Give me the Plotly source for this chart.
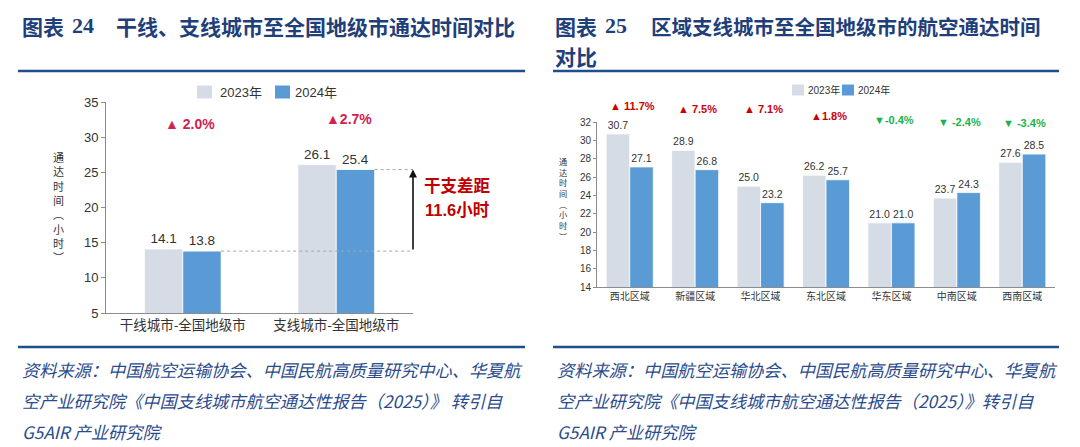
import plotly.graph_objects as go

W, H = 1080, 447

# ---------------- data ----------------
left_categories = ["干线城市-全国地级市", "支线城市-全国地级市"]
left_2023 = [14.1, 26.1]
left_2024 = [13.8, 25.4]
left_changes = ["▲ 2.0%", "▲2.7%"]
gap_text = ["干支差距", "11.6小时"]

right_categories = ["西北区域", "新疆区域", "华北区域", "东北区域", "华东区域", "中南区域", "西南区域"]
right_2023 = [30.7, 28.9, 25.0, 26.2, 21.0, 23.7, 27.6]
right_2024 = [27.1, 26.8, 23.2, 25.7, 21.0, 24.3, 28.5]
right_changes = ["▲ 11.7%", "▲ 7.5%", "▲ 7.1%", "▲1.8%", "▼-0.4%", "▼ -2.4%", "▼ -3.4%"]

series_names = ["2023年", "2024年"]
ytitle_chars = ["通", "达", "时", "间", "︵", "小", "时", "︶"]

left_title = ["图表", "24", "干线、支线城市至全国地级市通达时间对比"]
right_title = ["图表", "25", "区域支线城市至全国地级市的航空通达时间", "对比"]
foot_left = ["资料来源：中国航空运输协会、中国民航高质量研究中心、华夏航",
             "空产业研究院《中国支线城市航空通达性报告（2025）》 转引自",
             "G5AIR 产业研究院"]
foot_right = ["资料来源：中国航空运输协会、中国民航高质量研究中心、华夏航",
              "空产业研究院《中国支线城市航空通达性报告（2025）》转引自",
              "G5AIR 产业研究院"]

# ---------------- styles ----------------
C23 = "#D6DCE5"
C24 = "#5B9BD5"
NAVY = "#1F3F7A"
FOOT = "#2A4B8D"
TXT = "#333333"
SANS = "Liberation Sans, Noto Sans CJK SC, sans-serif"
CJK = "Noto Sans CJK SC, sans-serif"
SERIF = "Liberation Serif, serif"
COLORS = [C23, C24]


def px(x):
    return x / W


def py(y):
    return 1 - y / H


fig = go.Figure()

# left chart
lw = 0.25
for vals, name, col, off in [(left_2023, series_names[0], C23, -lw), (left_2024, series_names[1], C24, 0)]:
    fig.add_trace(go.Bar(x=list(range(len(left_categories))), y=vals, name=name,
                         marker=dict(color=col, line=dict(color="white", width=0.8)),
                         width=lw, offset=off, texttemplate="%{y:.1f}",
                         textposition="outside", cliponaxis=False,
                         textfont=dict(size=13.5, color=TXT, family=SANS),
                         xaxis="x", yaxis="y", showlegend=False))

# right chart
rw = 0.36
for vals, name, col, off in [(right_2023, series_names[0], C23, -rw), (right_2024, series_names[1], C24, 0)]:
    fig.add_trace(go.Bar(x=list(range(len(right_categories))), y=vals, name=name,
                         marker=dict(color=col, line=dict(color="white", width=0.8)),
                         width=rw, offset=off, texttemplate="%{y:.1f}",
                         textposition="outside", cliponaxis=False,
                         textfont=dict(size=10.5, color=TXT, family=SANS),
                         xaxis="x2", yaxis="y2", showlegend=False))

axis_common = dict(showgrid=False, zeroline=False, showline=True, linecolor="#8C8C8C",
                   linewidth=1, fixedrange=True)

fig.update_layout(
    width=W, height=H, margin=dict(l=0, r=0, t=0, b=0, autoexpand=False),
    paper_bgcolor="white", plot_bgcolor="white",
    barmode="group", showlegend=False,
    font=dict(family=SANS, color=TXT),
    xaxis=dict(domain=[px(106), px(413)], range=[-0.5, 1.5], tickmode="array",
               tickvals=list(range(len(left_categories))), ticktext=left_categories,
               ticks="", tickfont=dict(size=13.5, family=CJK, color=TXT), anchor="y",
               **axis_common),
    yaxis=dict(domain=[py(313), py(102)], range=[5, 35], dtick=5, tick0=5, ticks="outside",
               ticklen=4, tickcolor="#8C8C8C", tickfont=dict(size=13, color=TXT), anchor="x",
               **axis_common),
    xaxis2=dict(domain=[px(597), px(1055)], range=[-0.5, 6.5], tickmode="array",
                tickvals=list(range(len(right_categories))), ticktext=right_categories,
                ticks="", tickfont=dict(size=10, family=CJK, color=TXT), anchor="y2",
                **axis_common),
    yaxis2=dict(domain=[py(287), py(122)], range=[14, 32], dtick=2, tick0=14, ticks="outside",
                ticklen=3, tickcolor="#8C8C8C", tickfont=dict(size=10, color=TXT), anchor="x2",
                **axis_common),
)

ann = []
shapes = []


def title_ann(text, x, y, family, size):
    return dict(text=f"<b>{text}</b>", x=px(x), y=py(y), xref="paper", yref="paper",
                xanchor="left", yanchor="middle", showarrow=False,
                font=dict(family=family, size=size, color=NAVY))


ann.append(title_ann(left_title[0], 20, 26, CJK, 21))
ann.append(title_ann(left_title[1], 70, 26, SERIF, 22))
ann.append(title_ann(left_title[2], 114, 26, CJK, 21))
ann.append(title_ann(right_title[0], 553, 26, CJK, 21))
ann.append(title_ann(right_title[1], 603, 26, SERIF, 22))
ann.append(title_ann(right_title[2], 649, 26, CJK, 20.5))
ann.append(title_ann(right_title[3], 553, 56, CJK, 21))

# rules
for (x0, x1) in [(18, 525), (553, 1059)]:
    for y in [71, 347]:
        shapes.append(dict(type="line", xref="paper", yref="paper", x0=px(x0), x1=px(x1),
                           y0=py(y), y1=py(y), line=dict(color="#1F4E8C", width=2.5)))

# legends (swatch + label), drawn by hand to match the compact reference legends
legend_specs = [
    # (swatch x positions, text x positions, y centre, swatch w, swatch h, font size)
    ([197, 275], [218, 293], 92, 15, 13, 13),
    ([792, 842], [806, 856], 90, 12, 11, 10),
]
for sx, tx, yc, sw, sh, fs in legend_specs:
    for k in range(2):
        shapes.append(dict(type="rect", xref="paper", yref="paper",
                           x0=px(sx[k]), x1=px(sx[k] + sw), y0=py(yc + sh / 2), y1=py(yc - sh / 2),
                           fillcolor=COLORS[k], line=dict(width=0)))
        ann.append(dict(text=series_names[k], x=px(tx[k]), y=py(yc), xref="paper", yref="paper",
                        xanchor="left", yanchor="middle", showarrow=False,
                        font=dict(family=SANS, size=fs, color=TXT)))

# footnotes
for lines, x0 in [(foot_left, 20), (foot_right, 555)]:
    for i, t in enumerate(lines):
        ann.append(dict(text=t, x=px(x0), y=py(369 + i * 31), xref="paper", yref="paper",
                        xanchor="left", yanchor="middle", showarrow=False,
                        font=dict(family=CJK, size=17.2, color=FOOT, style="italic")))

# y-axis stacked titles (one text each, one character per line)
ytitle = "<br>".join(ytitle_chars)
ann.append(dict(text=ytitle, x=px(58), y=py(207), xref="paper", yref="paper",
                xanchor="center", yanchor="middle", showarrow=False,
                font=dict(family=CJK, size=11, color=TXT)))
ann.append(dict(text=ytitle, x=px(563), y=py(198), xref="paper", yref="paper",
                xanchor="center", yanchor="middle", showarrow=False,
                font=dict(family=CJK, size=8.2, color=TXT)))

# change labels, left
left_change_y = [31.9, 32.6]
left_change_dx = [0.05, 0.08]
for i, t in enumerate(left_changes):
    ann.append(dict(text=f"<b>{t}</b>", x=i + left_change_dx[i], y=left_change_y[i],
                    xref="x", yref="y", showarrow=False, xanchor="center", yanchor="middle",
                    font=dict(family=SANS, size=14, color="#D2214F")))

# change labels, right (above the plot area, in axis-domain units)
right_change_y = [33.75, 33.45, 33.45, 32.7, 32.25, 32.0, 31.85]
for i, t in enumerate(right_changes):
    col = "#CC0000" if t.startswith("▲") else "#19B34B"
    ann.append(dict(text=f"<b>{t}</b>", x=i + 0.04, y=(right_change_y[i] - 14) / (32 - 14),
                    xref="x2", yref="y2 domain", showarrow=False,
                    xanchor="center", yanchor="middle",
                    font=dict(family=SANS, size=11, color=col)))

# dotted guide lines and arrow (left chart)
for i, v in enumerate(left_2024):
    shapes.append(dict(type="line", xref="x", yref="y", x0=i + lw, x1=1.5, y0=v, y1=v,
                       line=dict(color="#A6A6A6", width=1, dash="dot")))
ann.append(dict(text="", x=1.5, y=max(left_2024), ax=1.5, ay=min(left_2024),
                xref="x", yref="y", axref="x", ayref="y", showarrow=True,
                arrowhead=2, arrowsize=1, arrowwidth=1.6, arrowcolor="#111111"))
ann.append(dict(text=f"<b>{gap_text[0]}</b>", x=px(457), y=py(185), xref="paper", yref="paper",
                xanchor="center", yanchor="middle",
                showarrow=False, font=dict(family=CJK, size=16.5, color="#C00000")))
ann.append(dict(text=f"<b>{gap_text[1]}</b>", x=px(457), y=py(210), xref="paper", yref="paper",
                xanchor="center", yanchor="middle",
                showarrow=False, font=dict(family=SANS, size=16.5, color="#C00000")))

fig.update_layout(annotations=ann, shapes=shapes)

fig.write_html(
    "out.html",
    config={"displayModeBar": False, "staticPlot": False},
    post_script="document.body.style.margin='0';document.body.style.padding='0';"
                "document.documentElement.style.overflow='hidden';",
)
